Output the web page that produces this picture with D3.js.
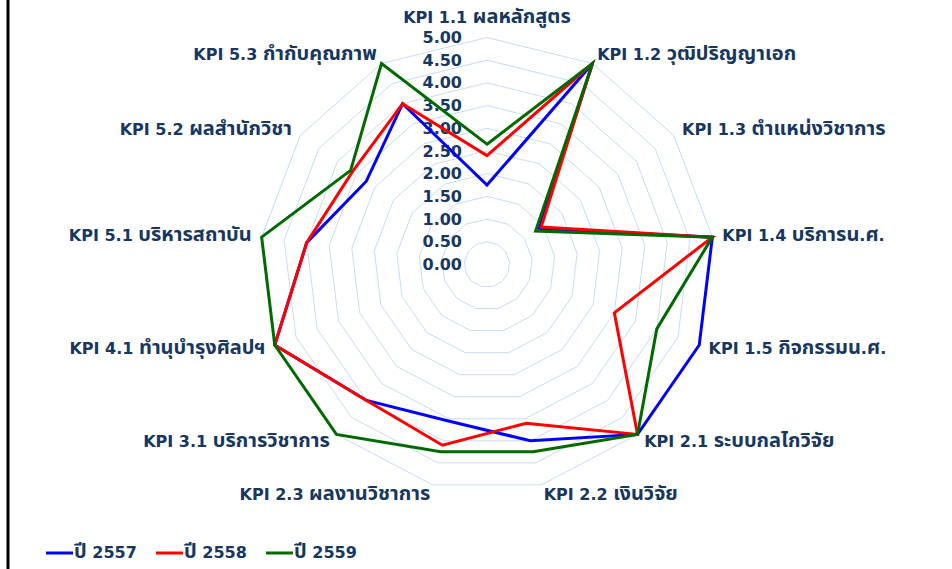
<!DOCTYPE html>
<html>
<head>
<meta charset="utf-8">
<script src="https://cdn.jsdelivr.net/npm/d3@7"></script>
<style>
  html, body { margin: 0; padding: 0; background: #ffffff; }
  svg { display: block; }
  text { font-family: "DejaVu Sans", "Noto Sans Thai", "Noto Sans", sans-serif; font-weight: bold; fill: #17375E; }
</style>
</head>
<body>
<svg id="chart" width="952" height="569"></svg>
<script>
const categories = [
  "KPI 1.1 ผลหลักสูตร",
  "KPI 1.2 วุฒิปริญญาเอก",
  "KPI 1.3 ตำแหน่งวิชาการ",
  "KPI 1.4 บริการน.ศ.",
  "KPI 1.5 กิจกรรมน.ศ.",
  "KPI 2.1 ระบบกลไกวิจัย",
  "KPI 2.2 เงินวิจัย",
  "KPI 2.3 ผลงานวิชาการ",
  "KPI 3.1 บริการวิชาการ",
  "KPI 4.1 ทำนุบำรุงศิลปฯ",
  "KPI 5.1 บริหารสถาบัน",
  "KPI 5.2 ผลสำนักวิชา",
  "KPI 5.3 กำกับคุณภาพ"
];
const seriesNames = ["ปี 2557", "ปี 2558", "ปี 2559"];
const values2557 = [1.75, 5, 1.40, 5, 5, 5, 4.00, 3.55, 4.00, 5, 4.00, 3.23, 4.00];
const values2558 = [2.40, 5, 1.45, 5, 3.00, 5, 3.60, 4.10, 4.00, 5, 4.00, 3.60, 4.00];
const values2559 = [2.65, 5, 1.30, 5, 4.00, 5, 4.25, 4.25, 5, 5, 5, 3.65, 5];
const seriesColors = ["#0000FF", "#FF0000", "#006A00"];
const tickValues = [0, 0.5, 1, 1.5, 2, 2.5, 3, 3.5, 4, 4.5, 5];

const svg = d3.select("#chart");
const cx = 487, cy = 264.5, R = 227;
const n = categories.length;
const r = d3.scaleLinear().domain([0, 5]).range([0, R]);
const angle = d3.scaleLinear().domain([0, n]).range([0, 2 * Math.PI]);

function pt(i, v) {
  const a = angle(i);
  return [cx + r(v) * Math.sin(a), cy - r(v) * Math.cos(a)];
}

// split text into runs of Thai / non-Thai so Thai can be sized up
function addRuns(textSel, str, latinSize, thaiSize) {
  const runs = str.match(/[\u0E00-\u0E7F]+|[^\u0E00-\u0E7F]+/g) || [];
  runs.forEach(run => {
    const isThai = /[\u0E00-\u0E7F]/.test(run);
    textSel.append("tspan").attr("font-size", isThai ? thaiSize : latinSize).text(run);
  });
}

// left border
svg.append("line").attr("x1", 8).attr("x2", 8).attr("y1", 0).attr("y2", 569)
  .attr("stroke", "#000").attr("stroke-width", 3);

// grid rings
const gGrid = svg.append("g");
tickValues.filter(t => t > 0).forEach(t => {
  const pts = d3.range(n).map(i => pt(i, t));
  gGrid.append("path")
    .attr("d", d3.line().curve(d3.curveLinearClosed)(pts))
    .attr("fill", "none").attr("stroke", "#C6DBF3").attr("stroke-width", 1);
});

// tick labels
const gTicks = svg.append("g");
tickValues.forEach(t => {
  gTicks.append("text")
    .attr("x", cx - 25).attr("y", cy - r(t))
    .attr("text-anchor", "end").attr("dominant-baseline", "central")
    .attr("font-size", 16)
    .text(d3.format(".2f")(t));
});

// series
const allSeries = [values2557, values2558, values2559];
const gSeries = svg.append("g");
allSeries.forEach((vals, s) => {
  const pts = vals.map((v, i) => pt(i, v));
  gSeries.append("path")
    .attr("d", d3.line().curve(d3.curveLinearClosed)(pts))
    .attr("fill", "none").attr("stroke", seriesColors[s])
    .attr("stroke-width", 3).attr("stroke-linejoin", "miter");
});

// category labels
const gLab = svg.append("g");
categories.forEach((c, i) => {
  const a = angle(i);
  const s = Math.sin(a);
  const lr = R + 10;
  const x = cx + lr * s, y = cy - lr * Math.cos(a);
  let anchor = "middle";
  if (s > 0.1) anchor = "start"; else if (s < -0.1) anchor = "end";
  const t = gLab.append("text")
    .attr("x", x).attr("y", (i === 0 ? y - 10 : y) + 5)
    .attr("text-anchor", anchor)
    .attr("font-size", 16);
  addRuns(t, c, 16, 20);
});

// legend
const gLeg = svg.append("g");
const legX = [46, 156, 266];
seriesNames.forEach((name, s) => {
  gLeg.append("line").attr("x1", legX[s]).attr("x2", legX[s] + 27)
    .attr("y1", 553).attr("y2", 553)
    .attr("stroke", seriesColors[s]).attr("stroke-width", 3);
  const t = gLeg.append("text").attr("x", legX[s] + 28).attr("y", 558)
    .attr("font-size", 16);
  addRuns(t, name, 16, 20);
});
</script>
</body>
</html>
